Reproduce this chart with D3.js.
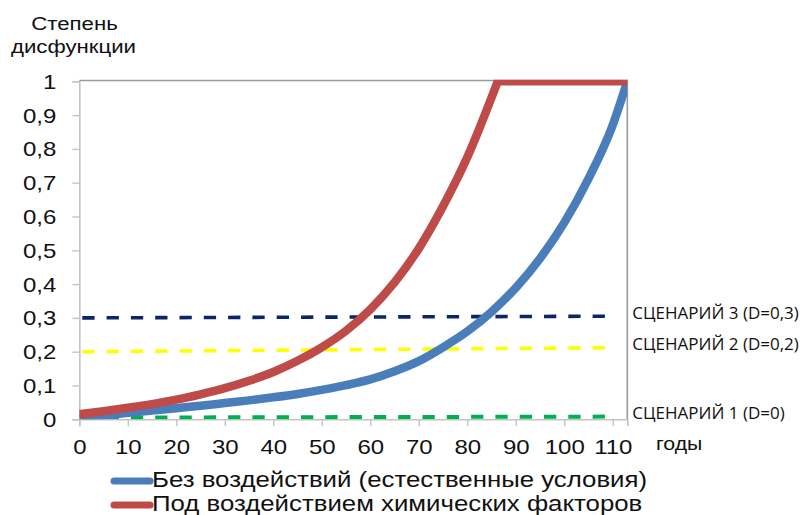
<!DOCTYPE html>
<html>
<head>
<meta charset="utf-8">
<script src="https://cdn.jsdelivr.net/npm/d3@7"></script>
<style>
  body { margin: 0; background: #fff; }
  svg { display: block; }
</style>
</head>
<body>
<svg id="chart" width="812" height="515"></svg>
<script>
// Dysfunction degree over time (years)
const naturalYears  = [0, 5, 10, 15, 20, 25, 30, 35, 40, 45, 50, 55, 60, 65, 70, 75, 80, 85, 90, 95, 100, 105, 110, 113];
const naturalValues = [0.003, 0.011, 0.019, 0.026, 0.033, 0.040, 0.048, 0.056, 0.065, 0.075, 0.087, 0.101, 0.118, 0.142, 0.172, 0.213, 0.260, 0.318, 0.389, 0.476, 0.582, 0.712, 0.871, 1.0];

const chemYears  = [0, 5, 10, 15, 20, 25, 30, 35, 40, 45, 50, 55, 60, 65, 70, 75, 80, 86.3, 113];
const chemValues = [0.015, 0.024, 0.034, 0.045, 0.058, 0.074, 0.092, 0.114, 0.140, 0.173, 0.213, 0.262, 0.325, 0.405, 0.505, 0.630, 0.775, 1.0, 1.0];

// Scenario thresholds (start / end of each dashed line)
const scenarioNames  = ["СЦЕНАРИЙ 1 (D=0)", "СЦЕНАРИЙ 2 (D=0,2)", "СЦЕНАРИЙ 3 (D=0,3)"];
const scenarioYears  = [0, 110.8];
const scenarioStart  = [0.005, 0.200, 0.300];
const scenarioEnd    = [0.008, 0.212, 0.305];
const scenarioColors = ["#00b050", "#ffff00", "#0b2566"];

const xTicks = [0, 10, 20, 30, 40, 50, 60, 70, 80, 90, 100, 110];
const yTicks = [0, 0.1, 0.2, 0.3, 0.4, 0.5, 0.6, 0.7, 0.8, 0.9, 1];
const yTickLabels = ["0", "0,1", "0,2", "0,3", "0,4", "0,5", "0,6", "0,7", "0,8", "0,9", "1"];

const legendNames  = ["Без воздействий (естественные условия)", "Под воздействием химических факторов"];
const seriesColors = ["#4a7ebb", "#be4b48"];

const svg = d3.select("#chart");
const plot = { left: 79.3, top: 81.3, right: 627.3, bottom: 419.3 };
const stretch = 1.2;
const font = "'Liberation Sans', Arial, sans-serif";

const x = d3.scaleLinear().domain([0, 113]).range([plot.left, plot.right]);
const y = d3.scaleLinear().domain([0, 1]).range([plot.bottom, plot.top]);

// frame: top and right borders
svg.append("line").attr("x1", plot.left).attr("x2", plot.right)
  .attr("y1", plot.top - 0.8).attr("y2", plot.top - 0.8)
  .attr("stroke", "#9a9a9a").attr("stroke-width", 1.6);
svg.append("line").attr("x1", plot.right).attr("x2", plot.right)
  .attr("y1", plot.top - 1.5).attr("y2", plot.bottom)
  .attr("stroke", "#9a9a9a").attr("stroke-width", 1.6);

// y axis
const yAxis = svg.append("g")
  .attr("transform", `translate(${plot.left},0)`)
  .call(d3.axisLeft(y).tickValues(yTicks).tickSize(7).tickFormat((d, i) => yTickLabels[i]));
yAxis.select(".domain").attr("stroke", "#c4c4c4").attr("stroke-width", 1.6);
yAxis.selectAll(".tick line").attr("stroke", "#c4c4c4").attr("stroke-width", 1.4);
yAxis.selectAll(".tick text")
  .attr("x", -23 / stretch).attr("dy", "0.35em")
  .attr("transform", `scale(${stretch},1)`)
  .attr("font-family", font).attr("font-size", 20).attr("fill", "#111");

// x axis
const xAxis = svg.append("g")
  .attr("transform", `translate(0,${plot.bottom})`)
  .call(d3.axisBottom(x).tickValues(xTicks).tickSize(7).tickFormat(d3.format("d")));
xAxis.select(".domain").attr("stroke", "#c4c4c4").attr("stroke-width", 1.6);
xAxis.selectAll(".tick line").attr("stroke", "#c4c4c4").attr("stroke-width", 1.4);
xAxis.selectAll(".tick text")
  .attr("y", 35).attr("dy", null)
  .attr("transform", `scale(${stretch},1)`)
  .attr("font-family", font).attr("font-size", 20).attr("fill", "#111");

// clip series to plot area
svg.append("clipPath").attr("id", "plot-clip")
  .append("rect").attr("x", plot.left).attr("y", plot.top - 1.5)
  .attr("width", plot.right - plot.left).attr("height", plot.bottom - plot.top + 1.5);

const series = svg.append("g").attr("clip-path", "url(#plot-clip)");

// scenario dashed lines
scenarioNames.forEach((name, i) => {
  const pts = [[scenarioYears[0], scenarioStart[i]], [scenarioYears[1], scenarioEnd[i]]];
  series.append("path")
    .attr("d", d3.line().x(d => x(d[0])).y(d => y(d[1]))(pts))
    .attr("fill", "none").attr("stroke", scenarioColors[i])
    .attr("stroke-width", i === 0 ? 4 : 3.6)
    .attr("stroke-dasharray", "12.3,12")
    .attr("stroke-dashoffset", -3);
});

// natural conditions curve
const curveLine = d3.line().x(d => x(d[0])).y(d => y(d[1])).curve(d3.curveMonotoneX);
series.append("path")
  .attr("d", curveLine(d3.zip(naturalYears, naturalValues)))
  .attr("fill", "none").attr("stroke", seriesColors[0]).attr("stroke-width", 8.5);

// chemical factors curve: smooth rise, then a straight plateau at 1
const chemPts = d3.zip(chemYears, chemValues);
const peak = chemValues.indexOf(1);
const rise = chemPts.slice(0, peak + 1);
const plateau = chemPts.slice(peak + 1);
const chemPath = curveLine(rise) + plateau.map(d => `L${x(d[0])},${y(d[1])}`).join("");
series.append("path")
  .attr("d", chemPath)
  .attr("fill", "none").attr("stroke", seriesColors[1]).attr("stroke-width", 8.5)
  .attr("stroke-linejoin", "miter");

// scenario labels at the right end of each dashed line
scenarioNames.forEach((name, i) => {
  svg.append("text")
    .attr("x", plot.right + 5).attr("y", y(scenarioEnd[i]) - 2)
    .attr("dominant-baseline", "middle")
    .attr("font-family", "'Open Sans', sans-serif").attr("font-size", 17)
    .attr("fill", "#111")
    .text(name);
});

// axis titles
function stretchedText(tx, ty, str, size, anchor) {
  svg.append("text")
    .attr("transform", `translate(${tx},${ty}) scale(${stretch},1)`)
    .attr("text-anchor", anchor)
    .attr("font-family", font).attr("font-size", size).attr("fill", "#111")
    .text(str);
}
stretchedText(74.5, 30, "Степень", 18.5, "middle");
stretchedText(73.5, 53, "дисфункции", 18.5, "middle");
svg.append("text")
  .attr("transform", `translate(656,450) scale(1.12,1)`)
  .attr("font-family", font).attr("font-size", 19).attr("fill", "#111")
  .text("годы");

// legend
const legendY = [481, 505];
legendNames.forEach((name, i) => {
  svg.append("line")
    .attr("x1", 114).attr("x2", 150)
    .attr("y1", legendY[i]).attr("y2", legendY[i])
    .attr("stroke", seriesColors[i]).attr("stroke-width", 7)
    .attr("stroke-linecap", "round");
  svg.append("text")
    .attr("transform", `translate(152,${legendY[i]}) scale(${stretch},1)`)
    .attr("dominant-baseline", "middle")
    .attr("font-family", font).attr("font-size", 21.5).attr("fill", "#111")
    .text(name);
});
</script>
</body>
</html>
